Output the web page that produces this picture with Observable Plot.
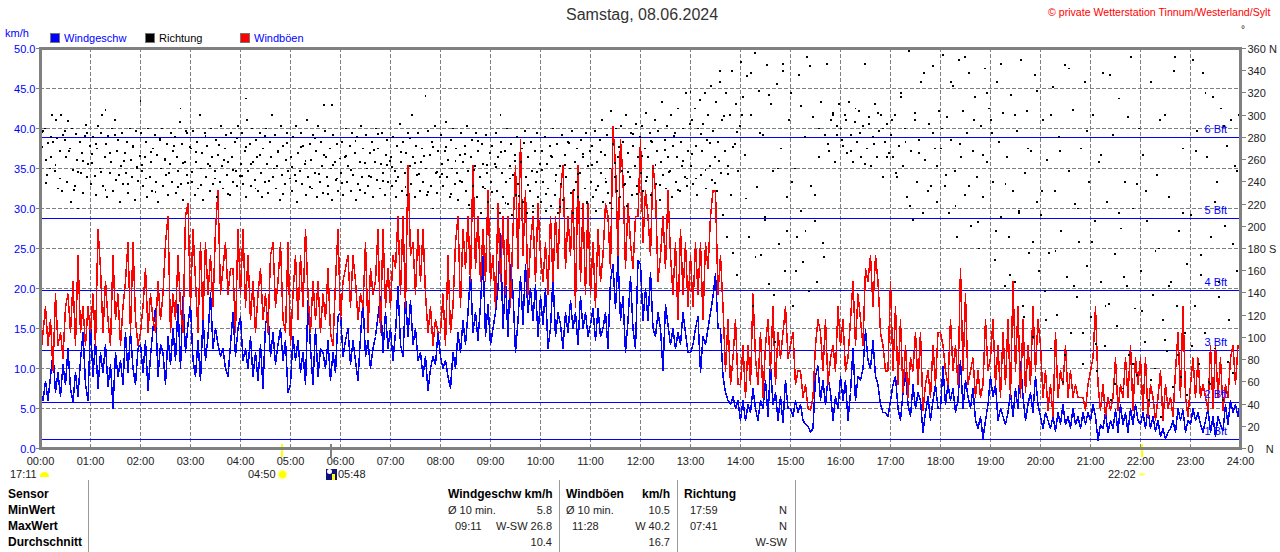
<!DOCTYPE html>
<html><head><meta charset="utf-8">
<script src="https://cdn.jsdelivr.net/npm/d3@7"></script>
<script src="https://cdn.jsdelivr.net/npm/@observablehq/plot@0.6"></script>
<style>
html,body{margin:0;padding:0;background:#fff;overflow:hidden}
#page{position:relative;width:1280px;height:552px;font:11px "Liberation Sans",Arial,sans-serif;color:#222}
#page>svg{position:absolute;left:0;top:0;shape-rendering:crispEdges}
#page svg text{font:11px "Liberation Sans",Arial,sans-serif}
.t{position:absolute;white-space:nowrap;line-height:14px}
.b{font-weight:bold;color:#000;font-size:12px}
.v{position:absolute;width:1px;background:#999;top:480px;height:72px}
.sq{position:absolute;width:10px;height:10px;top:33px}
</style></head><body><div id="page"></div>
<script>
// Wind gusts (km/h), one row per hour, one reading every 3 minutes
const gust00=[11.3,14.5,17.7,12.9,16.1,9.7,19.3,12.9,14.5,11.3,17.7,19.3,14.5,20.9,12.9,24.1,14.5,17.7,12.9,17.7];
const gust01=[14.5,19.3,12.9,27.4,22.5,14.5,20.9,16.1,12.9,24.1,16.1,19.3,12.9,17.7,20.9,25.7,14.5,25.7,16.1,12.9];
const gust02=[14.5,17.7,22.5,14.5,19.3,16.1,14.5,20.9,16.1,19.3,25.7,29.0,14.5,19.3,16.1,24.1,17.7,14.5,29.0,30.6];
const gust03=[17.7,27.4,20.9,14.5,25.7,16.1,25.7,19.3,24.1,17.7,27.4,32.2,19.3,22.5,25.7,19.3,22.5,22.5,14.5,27.4];
const gust04=[19.3,27.4,17.7,24.1,16.1,20.9,14.5,19.3,22.5,16.1,19.3,14.5,24.1,25.7,17.7,20.9,25.7,16.1,14.5,25.7];
const gust05=[12.9,19.3,24.1,16.1,24.1,17.7,27.4,19.3,14.5,20.9,16.1,20.9,14.5,19.3,16.1,22.5,14.5,12.9,20.9,27.4];
const gust06=[16.1,20.9,22.5,24.1,17.7,24.1,20.9,16.1,19.3,17.7,25.7,14.5,22.5,19.3,20.9,27.4,14.5,27.4,17.7,22.5];
const gust07=[17.7,24.1,22.5,29.0,19.3,29.0,17.7,35.4,24.1,25.7,19.3,27.4,20.9,27.4,19.3,14.5,17.7,12.9,16.1,14.5];
const gust08=[14.5,19.3,12.9,24.1,14.5,17.7,25.7,29.0,17.7,27.4,22.5,29.0,20.9,35.4,22.5,29.0,20.9,27.4,20.9,32.2];
const gust09=[20.9,24.1,17.7,30.6,20.9,29.0,19.3,29.0,17.7,27.4,35.4,22.5,38.6,24.1,32.2,19.3,25.7,29.0,20.9,30.6];
const gust10=[24.1,20.9,25.7,19.3,29.0,20.9,29.0,22.5,32.2,35.4,22.5,29.0,24.1,32.2,17.7,35.4,20.9,30.6,19.3,30.6];
const gust11=[19.3,25.7,17.7,27.4,20.9,24.1,30.6,29.0,22.5,40.2,35.4,24.1,38.6,33.8,22.5,30.6,25.7,22.5,29.0,29.0];
const gust12=[38.6,25.7,32.2,29.0,24.1,35.4,32.2,20.9,24.1,29.0,22.5,32.2,24.1,19.3,25.7,16.1,27.4,19.3,25.7,17.7];
const gust13=[24.1,17.7,25.7,19.3,25.7,16.1,25.7,22.5,29.0,32.2,32.2,19.3,24.1,17.7,9.7,16.1,8.0,11.3,16.1,8.0];
const gust14=[8.0,12.9,6.4,12.9,8.0,19.3,11.3,8.0,14.5,6.4,12.9,16.1,9.7,17.7,8.0,14.5,11.3,14.5,17.7,11.3];
const gust15=[12.9,14.5,8.0,9.7,9.7,6.4,8.0,5.0,4.8,6.4,12.9,16.1,14.5,9.7,16.1,8.0,11.3,12.9,9.7,17.7];
const gust16=[12.9,16.1,9.7,11.3,16.1,20.9,12.9,19.3,16.1,12.9,22.5,20.9,24.1,17.7,24.1,20.9,14.5,12.9,9.7,9.7];
const gust17=[20.9,9.7,17.7,8.0,16.1,7.0,12.9,6.4,11.3,9.7,14.5,8.0,14.5,4.8,8.0,9.7,6.4,12.9,8.0,14.5];
const gust18=[14.5,12.9,9.7,8.0,16.1,9.7,12.9,8.0,22.5,9.7,19.3,8.0,9.7,11.3,6.4,9.7,6.4,8.0,16.1,9.7];
const gust19=[11.3,16.1,8.0,12.9,6.4,14.5,8.0,16.1,6.4,20.9,9.7,17.7,6.4,16.1,7.0,12.9,8.0,17.7,9.7,16.1];
const gust20=[12.9,6.4,9.7,4.8,8.0,4.0,14.5,6.4,9.7,8.0,12.9,6.4,9.7,6.4,8.0,6.4,6.4,6.4,4.8,8.0];
const gust21=[9.7,11.3,17.7,8.0,4.8,8.0,4.0,6.4,4.8,6.4,11.3,4.8,8.0,6.4,11.3,6.4,12.9,4.8,11.3,8.0];
const gust22=[11.3,4.8,11.3,4.0,8.0,6.4,3.5,6.4,9.7,3.5,8.0,5.0,6.4,4.0,9.7,14.5,6.4,17.7,6.4,4.0];
const gust23=[8.0,11.3,6.4,11.3,6.4,8.0,6.4,4.8,12.9,5.0,12.9,6.4,11.3,4.8,8.0,6.4,11.3,12.9,8.0,12.9,12.9];
// Wind speed (km/h), same sampling
const wind00=[7.2,6.0,8.4,6.0,9.0,12.0,7.0,9.5,6.5,10.5,8.0,12.5,7.5,5.8,9.5,6.5,11.0,14.5,8.0,6.0];
const wind01=[15.7,9.0,13.5,7.5,12.0,9.5,13.0,7.8,10.5,5.0,12.0,9.0,11.0,8.0,14.5,9.5,14.5,10.0,8.0,12.5];
const wind02=[13.0,9.5,13.5,7.2,11.5,15.0,17.5,9.0,13.0,12.0,8.0,14.0,10.5,15.0,11.0,18.0,10.0,19.0,12.0,15.5];
const wind03=[18.0,11.0,9.0,13.5,8.5,16.5,11.0,14.0,19.5,12.5,15.0,13.0,11.5,12.5,10.0,9.0,13.0,17.0,11.5,15.0];
const wind04=[16.5,11.0,12.5,10.0,14.0,9.0,12.0,8.5,13.0,7.5,15.5,17.0,11.5,14.5,10.5,13.0,15.0,11.0,13.5,7.0];
const wind05=[8.0,14.0,11.0,13.5,9.5,12.0,8.0,18.5,12.5,8.0,15.0,9.0,12.5,12.0,10.0,13.5,8.5,12.0,9.5,16.5];
const wind06=[17.0,11.5,13.5,15.0,10.5,13.5,11.0,8.5,14.0,18.5,11.5,13.5,10.0,12.5,14.0,16.5,19.0,12.0,17.0,12.5];
const wind07=[15.0,11.0,14.5,20.2,13.0,11.5,19.0,14.0,18.5,13.0,15.0,11.0,12.0,9.0,11.5,7.2,10.0,11.5,10.5,14.5];
const wind08=[11.5,10.0,11.0,9.0,7.5,12.0,10.0,14.5,12.0,16.0,13.0,17.0,22.0,14.5,17.0,13.5,18.0,24.0,14.0,18.0];
const wind09=[13.0,15.0,17.0,20.0,26.8,15.0,21.0,14.0,23.0,19.5,12.0,16.0,21.5,15.5,23.0,17.0,20.0,16.0,20.5,14.0];
const wind10=[19.0,15.5,20.0,12.5,15.0,21.5,14.0,17.0,15.5,12.5,17.0,14.5,18.5,15.0,17.0,13.0,19.0,15.0,17.0,14.0];
const wind11=[15.5,17.5,13.5,17.5,14.0,15.0,17.0,12.5,21.0,23.0,17.5,24.0,16.0,19.0,12.0,16.0,21.5,15.0,12.5,23.5];
const wind12=[23.0,16.0,20.0,16.0,22.0,15.0,14.0,17.0,15.0,9.8,18.0,15.5,13.0,15.0,12.5,14.5,13.0,17.0,14.5,12.0];
const wind13=[12.0,13.0,15.0,16.5,9.5,14.0,13.0,15.0,17.0,19.0,21.8,15.0,15.0,9.0,7.0,6.0,5.5,6.5,5.0,6.0];
const wind14=[3.5,6.0,3.5,5.5,4.5,7.5,5.0,3.5,6.0,5.0,8.5,4.0,10.5,5.5,7.0,3.5,6.5,3.2,8.5,5.0];
const wind15=[5.0,4.0,6.0,4.5,5.5,3.5,3.0,2.8,2.0,2.5,9.0,10.3,6.0,8.5,5.5,8.8,7.0,3.5,6.5,5.0];
const wind16=[9.0,6.0,8.5,3.5,7.0,12.5,6.0,9.0,8.5,10.0,14.8,11.0,10.0,13.5,9.0,8.0,5.5,4.5,4.5,4.0];
const wind17=[6.0,8.0,9.0,5.0,3.5,7.0,9.5,5.5,4.0,8.0,5.0,7.0,6.0,2.0,4.5,6.5,3.5,6.0,8.0,5.0];
const wind18=[5.0,10.2,5.5,8.0,6.0,7.5,4.5,6.0,11.0,5.0,8.5,6.5,5.0,7.5,3.5,2.5,4.0,1.3,3.5,5.5];
const wind19=[9.0,6.5,8.0,3.5,5.0,4.0,3.0,4.5,7.0,4.0,7.5,5.0,10.8,6.5,3.5,5.5,7.0,4.5,9.0,5.5];
const wind20=[4.0,2.5,4.5,3.5,2.5,4.0,2.2,4.5,3.0,5.5,3.0,4.0,2.5,5.0,3.0,4.0,2.5,4.5,3.0,4.5];
const wind21=[3.5,5.5,4.0,1.0,3.0,2.5,4.5,2.0,3.5,2.5,4.8,2.0,5.5,3.0,4.5,2.0,5.0,3.0,5.5,3.5];
const wind22=[3.0,4.5,2.5,5.0,2.5,4.0,2.2,3.5,1.5,2.5,1.2,2.0,2.5,3.5,2.0,5.0,3.5,4.8,2.0,3.5];
const wind23=[3.0,5.0,3.5,4.5,3.0,2.0,3.5,5.0,2.0,4.0,1.5,4.0,3.0,2.2,5.5,3.0,6.0,4.5,5.5,4.0,6.0];
// Wind direction (degrees), one row per hour, readings evenly spread over the hour
const dir00=[258,285,286,288,260,246,275,252,280,300,276,250,296,279,234,268,300,232,282,286,262,240,295,270,222,288,251,236,283,260,216,276,248,266,230,281,291,244,256,272];
const dir01=[238,265,280,245,228,270,290,252,284,300,236,262,274,226,281,248,258,288,232,296,242,268,278,222,254,284,238,266,248,276,230,288,260,244,272,224,286,252,241,263];
const dir02=[284,250,236,262,276,226,288,244,258,232,270,282,240,264,222,278,252,288,236,260,246,274,228,256,284,240,268,280,230,262,250,294,238,274,224,258,286,246,239,271];
const dir03=[270,240,286,228,258,276,234,300,252,266,224,284,244,272,256,232,288,262,238,250,278,226,264,240,290,254,234,270,282,246,258,228,284,262,240,276,250,236,290,245];
const dir04=[256,284,238,268,226,296,250,274,236,288,258,242,278,262,232,284,248,226,270,240,288,256,230,276,262,300,244,282,234,254,268,224,290,246,272,238,260,284,250,243];
const dir05=[262,232,280,246,290,222,266,250,284,238,272,256,228,296,244,274,260,234,282,248,268,226,290,240,276,254,230,286,262,244,236,270,252,224,282,258,242,274,232,261];
const dir06=[248,276,228,262,288,240,254,272,232,284,246,266,224,280,238,258,290,244,270,230,282,252,236,266,244,276,226,258,288,242,270,234,256,284,248,228,264,278,240,259];
const dir07=[262,236,280,250,226,272,244,292,258,232,276,248,266,228,284,254,238,300,262,226,272,246,284,232,258,270,240,360,252,228,286,264,236,276,216,290,248,230,268,244];
const dir08=[282,256,236,268,294,244,260,226,278,252,288,238,270,248,224,264,284,240,258,272,232,290,250,216,262,278,236,254,284,226,268,244,212,274,256,234,282,248,222,266];
const dir09=[240,272,216,256,284,232,262,212,276,248,226,268,240,288,220,254,274,210,246,264,228,280,238,216,258,270,222,286,244,212,262,232,276,250,218,268,240,284,226,256];
const dir10=[222,268,240,280,214,256,234,272,218,262,288,228,246,274,212,254,238,282,224,264,244,216,276,252,230,286,212,258,240,270,226,248,278,216,262,234,284,222,254,268];
const dir11=[240,272,226,286,214,258,236,278,248,296,222,264,240,282,230,252,304,216,274,244,288,232,262,226,290,250,276,238,300,218,266,244,284,228,272,254,292,236,262,280];
const dir12=[248,290,232,270,302,244,262,284,228,276,252,296,238,268,286,224,258,312,246,278,234,290,262,250,300,226,272,284,240,262,306,232,276,254,288,244,320,236,268,292];
const dir13=[254,296,238,306,272,228,288,314,246,268,292,320,234,278,300,254,326,242,286,262,312,232,276,340,248,296,210,268,320,190,254,300,228,340,176,274,310,156,250,290];
const dir14=[348,316,264,335,190,300,128,356,235,322,174,282,206,345,148,310,250,96,328,184,270,340,160,226,296];
const dir15=[320,128,252,190,336,214,168,280,352,142,236,298,205,150,262,312,185,282,346,268,296,300,258,282,310];
const dir16=[288,272,300,266,312,282,258,294,276,304,262,290,346,270,298,254,280,310,262,286,300,244,276,292,266];
const dir17=[282,262,300,244,272,320,254,288,226,358,268,206,296,240,278,330,212,260,0,292,236,344,270,222,304];
const dir18=[270,354,236,298,212,278,326,250,190,350,262,304,228,284,338,200,268,316,244,180,290,226,342,258,306];
const dir19=[296,240,170,330,276,208,302,146,262,190,318,232,150,286,212,350,128,248,304,176,268,100,336,222,160];
const dir20=[210,296,142,260,176,90,325,232,120,280,196,60,345,154,250,104,305,220,136,186,270,76,330,164,240];
const dir21=[118,300,205,70,258,150,338,92,222,130,44,282,175,110,315,198,54,240,146,84,352,216,126,66,288];
const dir22=[160,264,96,205,44,330,138,72,246,180,28,116,300,88,226,150,55,352,128,196,64,270,104,166,36];
const dir23=[210,350,128,286,76,174,338,104,262,60,190,316,90,240,150,306,44,200,272,116,296,68,254,160,300];
// further direction readings between those above, again per hour
const dirB00=[271,239,262,255,243,278,268,233,249,259,284];
const dirB01=[257,274,249,233,266,282,246,259,238,271,253];
const dirB02=[255,243,267,231,279,261,248,272,235,257,284];
const dirB03=[249,267,237,281,254,243,273,260,229,251,279];
const dirB04=[245,271,256,234,264,281,241,252,267,229,275];
const dirB05=[253,241,271,259,235,279,247,264,229,255,243];
const dirB06=[239,263,251,277,233,257,245,269,283,241,255];
const dirB07=[253,241,267,235,279,257,247,263,231,271,249];
const dirB08=[247,271,229,259,241,265,219,251,277,235,255];
const dirB09=[231,253,267,221,243,259,227,275,237,213,249];
const dirB10=[251,229,263,241,217,255,275,233,247,265,221];
const dirB11=[255,233,267,243,221,257,271,237,249,283,229];
const dirB12=[263,241,277,255,237,269,249,281,233,259,243];
const dirB13=[265,243,283,251,275,239,259,299,247,271,285];
const dirB14=[300,225,338,172,284,208,318,138,252,346,196];
const dirB15=[240,160,308,196,344,228,288,172,274,302,290];
const dirB16=[278,296,268,306,284,256,292,274,302,288,262];
const dirB17=[296,248,316,276,218,302,266,338,232,284,254];
const dirB18=[288,246,330,218,274,352,236,296,204,264,320];
const dirB19=[284,196,346,238,156,300,214,118,270,186,322];
const dirB20=[232,116,300,178,268,84,342,146,216,104,286];
const dirB21=[186,94,264,128,336,58,212,154,298,76,238];
const dirB22=[124,232,62,178,296,98,146,340,84,212,48];
const dirB23=[92,268,156,320,58,222,136,290,78,184,250];
const outlierMinutes=[78,120,168,247,340,350,462,552,600,780,815];
const outlierDegrees=[305,313,306,315,309,309,317,300,305,321,330];

const gustRows=[gust00,gust01,gust02,gust03,gust04,gust05,gust06,gust07,gust08,gust09,gust10,gust11,gust12,gust13,gust14,gust15,gust16,gust17,gust18,gust19,gust20,gust21,gust22,gust23];
const windRows=[wind00,wind01,wind02,wind03,wind04,wind05,wind06,wind07,wind08,wind09,wind10,wind11,wind12,wind13,wind14,wind15,wind16,wind17,wind18,wind19,wind20,wind21,wind22,wind23];
const dirRows=[dir00,dir01,dir02,dir03,dir04,dir05,dir06,dir07,dir08,dir09,dir10,dir11,dir12,dir13,dir14,dir15,dir16,dir17,dir18,dir19,dir20,dir21,dir22,dir23];
const dirBRows=[dirB00,dirB01,dirB02,dirB03,dirB04,dirB05,dirB06,dirB07,dirB08,dirB09,dirB10,dirB11,dirB12,dirB13,dirB14,dirB15,dirB16,dirB17,dirB18,dirB19,dirB20,dirB21,dirB22,dirB23];

const bftValues=[1.1,5.8,12.3,19.8,28.8,38.9];
const bftNames=["1 Bft","2 Bft","3 Bft","4 Bft","5 Bft","6 Bft"];
const kmhTicks=d3.range(0,50.1,5);
const degTicks=d3.range(0,361,20);
const hourTicks=d3.range(0,1441,60);
const eventMinutes=[290,1322], moonMinutes=[348];

const series=rows=>rows.flatMap((r,h)=>r.map((v,i)=>({t:h*60+i*3,v})));
const gust=series(gustRows), wind=series(windRows);
const spread=rows=>rows.flatMap((r,h)=>r.map((v,i)=>({t:h*60+(i+0.3)*60/r.length,v})));
const dirs=[...spread(dirRows),...spread(dirBRows),...outlierMinutes.map((t,i)=>({t,v:outlierDegrees[i]}))];
const gray="#808080";
const hhmm=m=>String(Math.floor(m/60)).padStart(2,"0")+":"+String(m%60).padStart(2,"0");
const deg=v=>Math.round(v*7.2);
const rightLabel=v=>{const d=deg(v);return d===360?"360 N":d===180?"180 S":d===0?"0\u00a0\u00a0\u00a0\u00a0N":String(d)};

const chart=Plot.plot({
  width:1280,height:552,marginLeft:40,marginRight:40,marginTop:48,marginBottom:104,
  x:{domain:[0,1440]},y:{domain:[0,50]},
  marks:[
    Plot.gridX(hourTicks,{stroke:gray,strokeOpacity:1,strokeDasharray:"4,2"}),
    Plot.gridY(kmhTicks,{stroke:gray,strokeOpacity:1,strokeDasharray:"4,2"}),
    Plot.ruleY(bftValues,{stroke:"#0000ff",strokeWidth:1}),
    Plot.line(wind,{x:"t",y:"v",stroke:"#0000ff",strokeWidth:1.5}),
    Plot.line(gust,{x:"t",y:"v",stroke:"#ff0000",strokeWidth:1.5}),
    Plot.text(bftValues,{x:()=>1424,y:d=>d,text:(d,i)=>bftNames[i],dy:-8,textAnchor:"end",fill:"#0000ff"}),
    Plot.dot(dirs,{x:"t",y:d=>d.v/7.2,symbol:"square",r:1.05,fill:"#000",stroke:"none"}),
    Plot.ruleX(eventMinutes,{y1:0.5,y2:-1.1,stroke:"#ffff00",strokeWidth:2}),
    Plot.ruleX(moonMinutes,{y1:0.5,y2:-1.1,stroke:gray,strokeWidth:2}),
    Plot.frame({stroke:gray,strokeWidth:2.5}),
    Plot.axisY(kmhTicks,{anchor:"left",label:null,tickSize:4,tickPadding:0,stroke:gray,fill:"transparent",tickFormat:()=>""}),
    Plot.axisY(kmhTicks,{anchor:"left",label:null,tickSize:0,tickPadding:5,dy:1,fill:"#0000ff",tickFormat:d=>d.toFixed(1)}),
    Plot.axisY(degTicks.map(d=>d/7.2),{anchor:"right",label:null,tickSize:5,tickPadding:0,stroke:gray,fill:"transparent",tickFormat:()=>""}),
    Plot.axisY(degTicks.map(d=>d/7.2),{anchor:"right",label:null,tickSize:0,tickPadding:7,dy:1,fill:"#222",tickFormat:rightLabel}),
    Plot.axisX(hourTicks,{anchor:"bottom",label:null,tickSize:0,tickPadding:9,fill:"#222",tickFormat:hhmm})
  ]
});
const page=document.getElementById("page");
page.appendChild(chart);
chart.style.maxWidth="none";

function txt(s,x,y,o={}){
  const e=document.createElement("div");e.className="t "+(o.c||"");e.textContent=s;
  e.style.top=(y-7)+"px";
  if(o.right!==undefined){e.style.right=(1280-o.right)+"px"}else{e.style.left=x+"px"}
  if(o.color)e.style.color=o.color;
  if(o.size){e.style.fontSize=o.size+"px"}
  page.appendChild(e);return e;
}
txt("Samstag, 08.06.2024",566,15,{size:16,color:"#333"});
txt("© private Wetterstation Tinnum/Westerland/Sylt",1048,12,{size:10.6,color:"#ff0000"});
txt("°",1241,30,{color:"#222",size:10});
txt("km/h",5,33,{color:"#0000ff"});
const legendNames=["Windgeschw","Richtung","Windböen"],legendColors=["#0000ff","#000000","#ff0000"],legendText=["#0000ff","#000","#0000ff"],legendX=[50,145,240];
legendNames.forEach((n,i)=>{
  const s=document.createElement("div");s.className="sq";s.style.left=legendX[i]+"px";s.style.background=legendColors[i];s.style.outline="1px solid #777";s.style.outlineOffset="-1px";page.appendChild(s);
  txt(n,legendX[i]+14,38,{color:legendText[i]});
});
// sun & moon markers under the time axis
txt("17:11",10,474);txt("04:50",248,474);txt("05:48",338,474);txt("22:02",1108,474);
function icon(x,y,w,h,css){const e=document.createElement("div");e.style.cssText=`position:absolute;left:${x}px;top:${y}px;width:${w}px;height:${h}px;${css}`;page.appendChild(e)}
icon(40,472,9,5,"background:#ffff00;border-radius:5px 5px 0 0");
icon(279,471,7,7,"background:#ffff00;border-radius:50%;box-shadow:0 0 2px 1px #ffff66");
icon(326,469,11,11,"background:#10107a");
icon(327,469,5,5,"background:#fff;border-radius:50%");
icon(332,474,3,6,"background:#ffff00");
icon(1139,473,6,3,"background:#ffff66;border-radius:0 0 4px 4px");
// statistics table
[88,559,677,795].forEach(x=>{const v=document.createElement("div");v.className="v";v.style.left=x+"px";page.appendChild(v)});
const rowY=[494,510,526,542];
["Sensor","MinWert","MaxWert","Durchschnitt"].forEach((s,i)=>txt(s,8,rowY[i],{c:"b"}));
txt("Windgeschw km/h",448,494,{c:"b"});
txt("Ø 10 min.",448,510);txt("5.8",0,510,{right:552});
txt("09:11",455,526);txt("W-SW 26.8",0,526,{right:552});
txt("10.4",0,542,{right:552});
txt("Windböen",566,494,{c:"b"});txt("km/h",0,494,{c:"b",right:670});
txt("Ø 10 min.",566,510);txt("10.5",0,510,{right:670});
txt("11:28",572,526);txt("W 40.2",0,526,{right:670});
txt("16.7",0,542,{right:670});
txt("Richtung",684,494,{c:"b"});
txt("17:59",690,510);txt("N",0,510,{right:787});
txt("07:41",690,526);txt("N",0,526,{right:787});
txt("W-SW",0,542,{right:787});
</script></body></html>
